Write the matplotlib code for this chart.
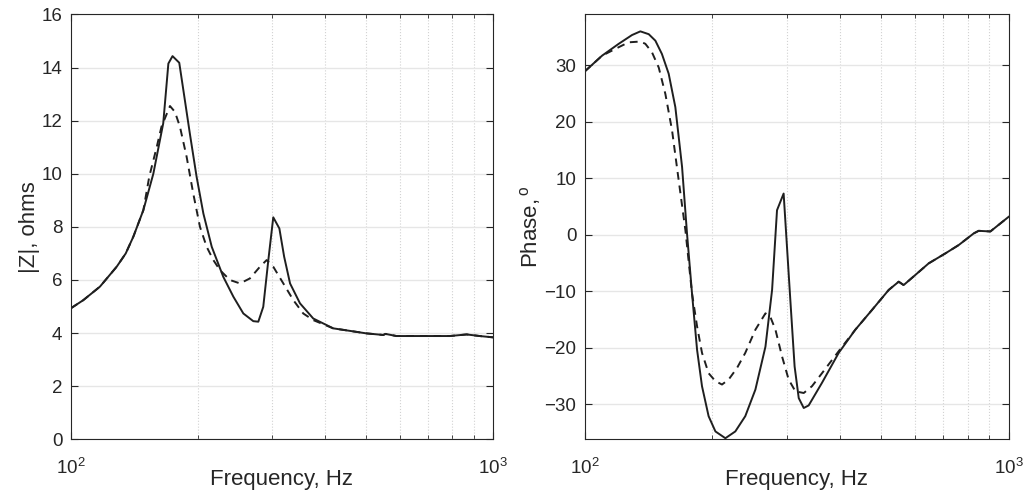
import matplotlib
matplotlib.use("Agg")
import matplotlib.pyplot as plt
from matplotlib.ticker import LogLocator, NullFormatter

plt.rcParams["font.family"] = ["Liberation Sans", "DejaVu Sans"]
plt.rcParams["mathtext.fontset"] = "custom"
plt.rcParams["mathtext.rm"] = "Liberation Sans"
plt.rcParams["mathtext.it"] = "Liberation Sans:italic"

# |Z| magnitude, solid curve
mag_f = [100, 107.1, 117.3, 128.5, 135, 140.7, 148.6, 156.9, 165.6, 170.3, 174.2, 180.7,
         185.8, 191.5, 198.6, 206.1, 215.7, 229.7, 242.7, 256.2, 270.5, 278, 285.6,
         293.6, 301.6, 311.8, 320, 330.5, 348.9, 375, 418, 501, 549, 556, 590, 658,
         789, 865, 929, 1000]
mag_z = [4.93, 5.24, 5.75, 6.5, 7.0, 7.63, 8.63, 10.0, 11.9, 14.15, 14.43, 14.18,
         12.9, 11.5, 9.89, 8.5, 7.25, 6.12, 5.37, 4.74, 4.45, 4.43, 4.99,
         6.75, 8.36, 7.94, 6.88, 5.87, 5.12, 4.55, 4.18, 3.99, 3.93, 3.97, 3.89, 3.89,
         3.89, 3.95, 3.89, 3.84]

# |Z| magnitude, dashed curve
mag_f2 = [100, 107.1, 117.3, 128.5, 135, 140.7, 148.6, 153.5, 159.8, 164, 171.8, 176.5,
          181.4, 188.1, 195, 202.3, 209.8, 217.6, 225.6, 238.2, 251.6, 265.6, 280.5,
          290.9, 301.6, 318.6, 336.5, 355.1, 375, 418, 501, 549, 556, 590, 658,
          789, 865, 929, 1000]
mag_z2 = [4.93, 5.24, 5.75, 6.5, 7.0, 7.63, 8.63, 9.9, 11.0, 11.77, 12.55, 12.33,
          11.77, 10.64, 9.26, 8.0, 7.25, 6.75, 6.37, 6.0, 5.87, 6.06, 6.5,
          6.75, 6.5, 5.87, 5.24, 4.74, 4.49, 4.18, 3.99, 3.93, 3.97, 3.89, 3.89,
          3.89, 3.95, 3.89, 3.84]

# phase, solid curve
ph_f = [100, 109.9, 120.3, 129.3, 135.3, 141.6, 146.8, 152.1, 157.8, 163.6, 169.7,
        174.3, 179.1, 184.1, 189.1, 196, 203.4, 214.7, 226.6, 239.2, 252.7, 266.9,
        276.7, 284.2, 294.6, 305.5, 312.7, 319.8, 328.6, 337.5, 362.8, 397.3, 434.8,
        476.1, 521.3, 550.4, 565.4, 602.6, 647.6, 708.9, 762.3, 827, 849.7, 905.6, 1000]
ph_deg = [28.9, 31.7, 33.8, 35.35, 36.0, 35.5, 34.35, 32.0, 28.5, 22.6, 12.0,
          0.24, -10.35, -20.35, -26.8, -32.1, -34.8, -36.0, -34.8, -32.1, -27.4, -19.8,
          -9.76, 4.35, 7.3, -11.5, -23.3, -28.9, -30.65, -30.2, -26.2, -20.9, -16.8,
          -13.3, -9.76, -8.3, -8.9, -7.1, -5.06, -3.3, -1.82, 0.24, 0.7, 0.59, 3.18]

# phase, dashed curve
ph_f2 = [100, 109.9, 120.3, 126.9, 135.3, 139, 144.1, 149.5, 155, 160.7, 166.6,
         172.8, 179.1, 184.1, 189.1, 196, 203.4, 210.8, 218.6, 228.6, 239.2, 252.7,
         266.9, 274, 281.8, 292, 302.7, 314, 328.6, 343.6, 362.8, 397.3, 434.8,
         476.1, 521.3, 550.4, 565.4, 602.6, 647.6, 708.9, 762.3, 827, 849.7, 905.6, 1000]
ph_deg2 = [28.9, 31.7, 33.2, 34.06, 34.2, 33.8, 32.3, 29.6, 24.9, 18.5, 9.65,
           0.8, -10.35, -16.2, -20.9, -24.5, -25.9, -26.5, -25.6, -23.6, -20.9, -16.8,
           -13.9, -14.5, -16.8, -21.5, -25.6, -27.7, -28.0, -26.8, -24.5, -20.6, -16.8,
           -13.3, -9.76, -8.3, -8.9, -7.1, -5.06, -3.3, -1.82, 0.24, 0.7, 0.59, 3.18]

AX_COLOR = "#262626"
LINE_COLOR = "#1f1f1f"


def _style(ax, ylim, yticks, ylabel):
    ax.set_xscale("log")
    ax.set_xlim(100, 1000)
    ax.set_ylim(*ylim)
    ax.set_yticks(yticks)
    ax.xaxis.set_minor_locator(LogLocator(base=10, subs=range(2, 10)))
    ax.xaxis.set_minor_formatter(NullFormatter())
    ax.grid(True, which="major", axis="y", color="#e6e6e6", linewidth=1.0, linestyle="-")
    ax.grid(True, which="minor", axis="x", color="#d2d2d2", linewidth=0.8, linestyle=":")
    ax.set_axisbelow(True)
    ax.tick_params(which="both", direction="in", top=True, right=True,
                   colors=AX_COLOR, labelsize=13.5)
    ax.tick_params(which="major", length=5, width=0.8)
    ax.tick_params(which="minor", length=3, width=0.6)
    ax.tick_params(axis="x", which="major", pad=13)
    ax.tick_params(axis="y", which="major", pad=6)
    for spine in ax.spines.values():
        spine.set_color(AX_COLOR)
        spine.set_linewidth(0.8)
    ax.set_xlabel("Frequency, Hz", fontsize=16, color=AX_COLOR, labelpad=-6)
    ax.set_ylabel(ylabel, fontsize=16, color=AX_COLOR, labelpad=1)


def main() -> None:
    fig = plt.figure(figsize=(10.24, 4.97), dpi=100)
    ax1 = fig.add_axes([0.069, 0.116, 0.4127, 0.855])
    ax2 = fig.add_axes([0.571, 0.116, 0.414, 0.855])

    ax1.plot(mag_f2, mag_z2, color=LINE_COLOR, linewidth=1.4, linestyle=(0, (4, 3)))
    ax1.plot(mag_f, mag_z, color=LINE_COLOR, linewidth=1.4)
    _style(ax1, (0, 16), range(0, 17, 2), "|Z|, ohms")

    ax2.plot(ph_f2, ph_deg2, color=LINE_COLOR, linewidth=1.4, linestyle=(0, (4, 3)))
    ax2.plot(ph_f, ph_deg, color=LINE_COLOR, linewidth=1.4)
    _style(ax2, (-36.2, 39), range(-30, 31, 10), r"Phase,$\,^{\mathrm{o}}$")

    fig.savefig("out.png", dpi=100)
    plt.close(fig)


if __name__ == "__main__":
    main()
